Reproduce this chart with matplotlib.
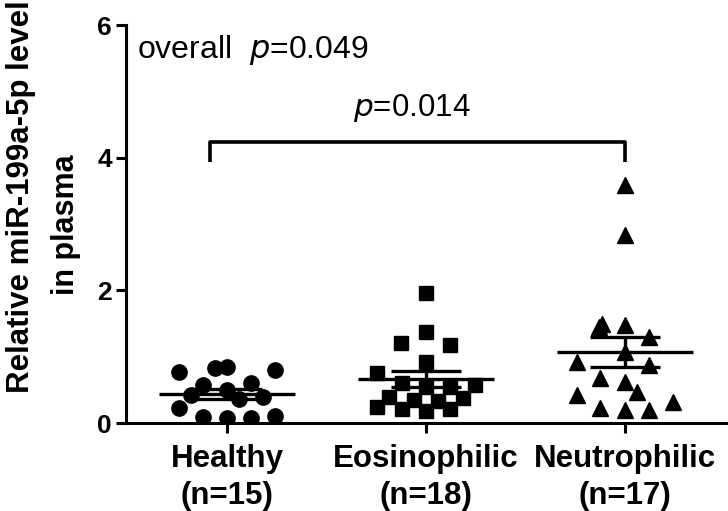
import numpy as np
import matplotlib
matplotlib.use("Agg")
from matplotlib import pyplot as plt

plt.rcParams['font.family'] = ['Liberation Sans', 'DejaVu Sans']

groups = ['Healthy\n(n=15)', 'Eosinophilic\n(n=18)', 'Neutrophilic\n(n=17)']

# values, with horizontal scatter offsets
healthy = [0.77, 0.83, 0.85, 0.80, 0.23, 0.09, 0.07, 0.07, 0.10,
           0.57, 0.60, 0.50, 0.42, 0.40, 0.36]
healthy_dx = [-0.24, -0.06, 0.0, 0.24, -0.24, -0.12, 0.0, 0.12, 0.24,
              -0.12, 0.12, 0.0, -0.18, 0.18, 0.06]

eosino = [1.96, 1.37, 1.20, 1.18, 0.92,
          0.75, 0.60, 0.55, 0.55, 0.58,
          0.40, 0.35, 0.33, 0.38,
          0.25, 0.22, 0.18, 0.22]
eosino_dx = [0.0, 0.0, -0.125, 0.12, 0.0,
             -0.245, -0.12, 0.0, 0.12, 0.245,
             -0.185, -0.06, 0.06, 0.185,
             -0.245, -0.12, 0.0, 0.12]

neutro = [3.59, 2.84, 1.50, 1.45, 1.48, 1.30, 0.92, 0.87, 1.07,
          0.68, 0.62, 0.47, 0.42, 0.23, 0.20, 0.20, 0.32]
neutro_dx = [0.0, 0.0, -0.115, -0.13, 0.0, 0.12, -0.24, 0.12, 0.0,
             -0.125, 0.0, 0.06, -0.24, -0.125, 0.0, 0.12, 0.24]

markers = ['o', 's', '^']
msizes = [11, 10, 11.5]

fig = plt.figure(figsize=(7.28, 5.11), dpi=100)
ax = fig.add_axes([0.173, 0.172, 0.827, 0.779])

for i, (vals, dx) in enumerate([(healthy, healthy_dx), (eosino, eosino_dx), (neutro, neutro_dx)]):
    vals = np.array(vals)
    ax.plot(i + np.array(dx), vals, linestyle='none', marker=markers[i],
            ms=msizes[i], color='black', zorder=3)
    m = vals.mean()
    sem = vals.std(ddof=1) / np.sqrt(len(vals))
    ax.hlines(m, i - 0.34, i + 0.34, color='black', lw=2.4, zorder=4)
    ax.hlines([m - sem, m + sem], i - 0.175, i + 0.175, color='black', lw=2.4, zorder=4)
    ax.vlines(i, m - sem, m + sem, color='black', lw=2.4, zorder=4)

# bracket
ax.plot([-0.085, -0.085, 2.0, 2.0], [3.94, 4.24, 4.24, 3.94], color='black', lw=2.6,
        solid_capstyle='butt')
ax.text(0.93, 4.75, r'$\mathit{p}$=0.014', ha='center', va='center', fontsize=22.5)
ax.text(-0.45, 5.63, r'overall  $\mathit{p}$=0.049', ha='left', va='center', fontsize=23)

ax.set_xlim(-0.508, 2.518)
ax.set_ylim(0, 6)
ax.set_yticks([0, 2, 4, 6])
ax.set_xticks([0, 1, 2])
ax.set_xticklabels(groups, fontsize=22.5, fontweight='bold', linespacing=1.3)
for lab in ax.get_yticklabels():
    lab.set_fontsize(19)
    lab.set_fontweight('bold')

# y label, two lines placed as in the original
fig.text(21 / 728, 1 - 197 / 511, 'Relative miR-199a-5p level', rotation=90,
         ha='center', va='center', fontsize=22.5, fontweight='bold')
fig.text(66 / 728, 1 - 225 / 511, 'in plasma', rotation=90,
         ha='center', va='center', fontsize=22, fontweight='bold')

for s in ['top', 'right']:
    ax.spines[s].set_visible(False)
for s in ['left', 'bottom']:
    ax.spines[s].set_linewidth(2.2)
ax.tick_params(width=2.2, length=7, direction='out', pad=3)
ax.tick_params(axis='x', pad=8)

fig.savefig('out.png', dpi=100)
